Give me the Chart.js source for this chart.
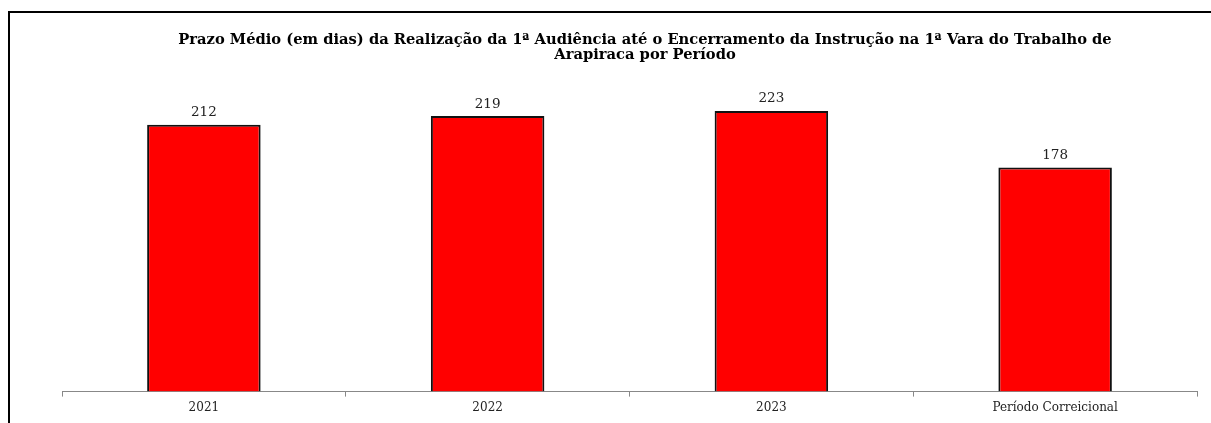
<!DOCTYPE html>
<html>
<head>
<meta charset="utf-8">
<script src="https://cdn.jsdelivr.net/npm/chart.js@4"></script>
<style>
html,body{margin:0;padding:0;background:#fff;}
#wrap{width:1211px;height:423px;position:relative;}
</style>
</head>
<body>
<div id="wrap"><canvas id="c" width="1211" height="423"></canvas></div>
<script>
const categories = ["2021", "2022", "2023", "Período Correicional"];
const values = [212, 219, 223, 178];
const titleLines = [
  "Prazo Médio (em dias) da Realização da 1ª Audiência até o Encerramento da Instrução na 1ª Vara do Trabalho de",
  "Arapiraca por Período"
];

const framePlugin = {
  id: 'frame',
  beforeDraw(chart) {
    const ctx = chart.ctx;
    ctx.save();
    ctx.fillStyle = '#fff';
    ctx.fillRect(0, 0, chart.width, chart.height);
    ctx.strokeStyle = '#000';
    ctx.lineWidth = 2;
    ctx.beginPath();
    ctx.moveTo(9, chart.height + 5);
    ctx.lineTo(9, 12);
    ctx.lineTo(chart.width + 5, 12);
    ctx.stroke();
    ctx.restore();
  }
};

const titlePlugin = {
  id: 'offsetTitle',
  afterDraw(chart) {
    const ctx = chart.ctx;
    ctx.save();
    ctx.font = 'bold 14.7px "DejaVu Serif", serif';
    ctx.fillStyle = '#000';
    ctx.textAlign = 'center';
    ctx.textBaseline = 'middle';
    titleLines.forEach((line, i) => {
      ctx.fillText(line, 645, 40 + i * 15.5);
    });
    ctx.restore();
  }
};

const valueLabels = {
  id: 'valueLabels',
  afterDatasetsDraw(chart) {
    const ctx = chart.ctx;
    const meta = chart.getDatasetMeta(0);
    ctx.save();
    ctx.font = '13.5px "DejaVu Serif", serif';
    ctx.fillStyle = '#222';
    ctx.textAlign = 'center';
    ctx.textBaseline = 'middle';
    meta.data.forEach((bar, i) => {
      ctx.fillText(String(values[i]), bar.x, bar.y - 12);
    });
    ctx.restore();
  }
};

new Chart(document.getElementById('c'), {
  type: 'bar',
  data: {
    labels: categories,
    datasets: [{
      data: values,
      backgroundColor: '#FF0000',
      borderColor: '#111',
      borderWidth: 2,
      categoryPercentage: 0.8,
      barPercentage: 0.5
    }]
  },
  options: {
    responsive: false,
    animation: false,
    devicePixelRatio: 1,
    layout: { padding: { left: 62, right: 14, top: 77, bottom: 4 } },
    plugins: {
      legend: { display: false },
      tooltip: { enabled: false },
      title: { display: false }
    },
    scales: {
      x: {
        grid: { offset: true, drawOnChartArea: false, drawTicks: true, tickLength: 5, color: '#888' },
        border: { display: true, color: '#888', width: 1 },
        ticks: {
          color: '#222',
          padding: 4,
          font: { family: '"DejaVu Serif", serif', size: 12 }
        }
      },
      y: {
        display: false,
        min: 0,
        max: 250
      }
    }
  },
  plugins: [framePlugin, valueLabels, titlePlugin]
});
</script>
</body>
</html>
